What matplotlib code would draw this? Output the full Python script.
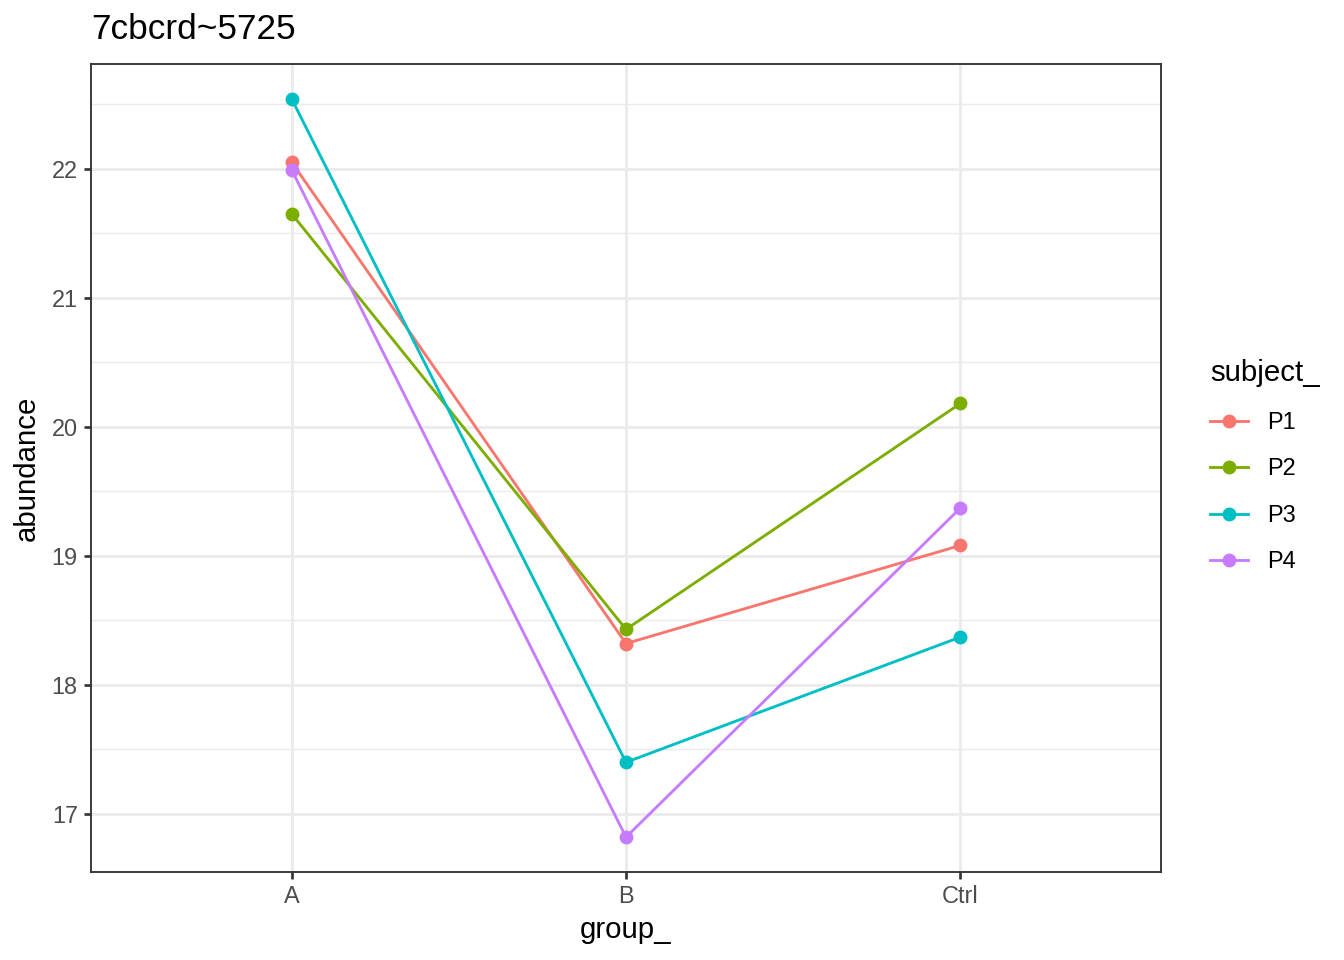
import matplotlib.pyplot as plt
from matplotlib.ticker import MultipleLocator

plt.rcParams['font.family'] = ['Liberation Sans', 'DejaVu Sans']

groups = ["A", "B", "Ctrl"]
subjects = ["P1", "P2", "P3", "P4"]
abundance = {
    "P1": [22.05, 18.32, 19.08],
    "P2": [21.65, 18.43, 20.18],
    "P3": [22.54, 17.40, 18.37],
    "P4": [21.99, 16.82, 19.37],
}
colors = ["#F8766D", "#7CAE00", "#00BFC4", "#C77CFF"]

fig = plt.figure(figsize=(7, 5), dpi=192)
ax = fig.add_axes([91 / 1344, 88 / 960, 1070 / 1344, 808 / 960])

x = list(range(len(groups)))
for s, c in zip(subjects, colors):
    ax.plot(x, abundance[s], color=c, linewidth=1.07, marker="o",
            markersize=4.2, label=s, zorder=3)

ax.set_xlim(-0.6, 2.6)
ax.set_ylim(16.55, 22.81)
ax.set_xticks(x)
ax.set_xticklabels(groups)
ax.yaxis.set_major_locator(MultipleLocator(1))
ax.yaxis.set_minor_locator(MultipleLocator(0.5))

ax.grid(which="major", color="#EBEBEB", linewidth=1.07, zorder=0)
ax.grid(which="minor", axis="y", color="#EBEBEB", linewidth=0.53, zorder=0)
ax.set_axisbelow(True)
for sp in ax.spines.values():
    sp.set_color("#333333")
    sp.set_linewidth(0.7)
ax.tick_params(which="major", length=2.75, width=1.0, color="#333333",
               labelsize=8.8, labelcolor="#4D4D4D", pad=2.2)
ax.tick_params(which="minor", length=0)

ax.set_xlabel("group_", fontsize=11, labelpad=3)
ax.set_ylabel("abundance", fontsize=11, labelpad=4)
ax.set_title("7cbcrd~5725", loc="left", fontsize=13.2, pad=9.5)

leg = ax.legend(title="subject_", loc="center left",
                bbox_to_anchor=(1189 / 1344, 494 / 960),
                bbox_transform=fig.transFigure, frameon=False,
                fontsize=8.8, title_fontsize=11, handlelength=1.62,
                handletextpad=0.8, labelspacing=1.0)
leg._legend_box.align = "left"
leg._legend_box.sep = 9

fig.savefig("out.png", dpi=192)
